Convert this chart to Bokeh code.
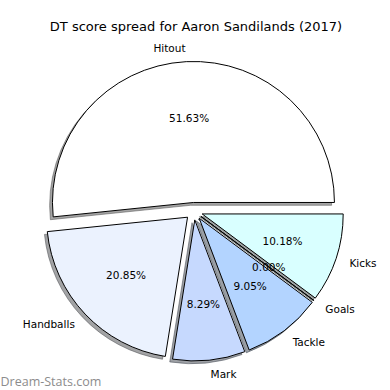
import math
from bokeh.plotting import figure
from bokeh.models import ColumnDataSource
from bokeh.core.properties import value
from bokeh.embed import file_html
from bokeh.resources import INLINE

# ---- data ----
labels = ["Kicks", "Goals", "Tackle", "Mark", "Handballs", "Hitout"]
percents = [10.18, 0.00, 9.05, 8.29, 20.85, 51.63]
colors = ["#d9ffff", "#99ccff", "#b3d4ff", "#c6d9fe", "#ebf2fe", "#ffffff"]
title_text = "DT score spread for Aaron Sandilands (2017)"
watermark = "Dream-Stats.com"

# ---- layout constants ----
W = H = 390
PX = 141.0                      # pixels per unit radius
cx_px, cy_px = 193.4, 210.7     # pie centre in figure pixels
x0, x1 = -cx_px / PX, (W - cx_px) / PX
y1, y0 = cy_px / PX, -(H - cy_px) / PX
EXPLODE = 0.062
SHADOW = 0.02
FONT = "DejaVu Sans"

p = figure(width=W, height=H, x_range=(x0, x1), y_range=(y0, y1),
           output_backend="svg", toolbar_location=None, min_border=0,
           x_axis_location=None, y_axis_location=None)
p.grid.visible = False
p.outline_line_color = None
p.background_fill_color = "white"
p.border_fill_color = "white"

total = sum(percents)
cum = 0.0
rows = dict(x=[], y=[], sa=[], ea=[], color=[], shadow=[], lx=[], ly=[], lab=[], align=[], px=[], py=[], pct=[])
for lab, v, col in zip(labels, percents, colors):
    t1 = -2 * math.pi * cum / total
    t2 = -2 * math.pi * (cum + v) / total
    cum += v
    mid = (t1 + t2) / 2
    cx, cy = EXPLODE * math.cos(mid), EXPLODE * math.sin(mid)
    sa, ea = t2, t1
    if ea - sa < 1e-4:
        ea = sa + 1e-4
    rows["x"].append(cx); rows["y"].append(cy)
    rows["sa"].append(sa); rows["ea"].append(ea)
    rows["color"].append(col)
    r, g, b = (int(col[i:i + 2], 16) for i in (1, 3, 5))
    rows["shadow"].append("#%02x%02x%02x" % (int(r * 0.3), int(g * 0.3), int(b * 0.3)))
    xt, yt = cx + 1.1 * math.cos(mid), cy + 1.1 * math.sin(mid)
    rows["lx"].append(xt); rows["ly"].append(yt); rows["lab"].append(lab)
    rows["align"].append("left" if xt > 0 else "right")
    rows["px"].append(cx + 0.6 * math.cos(mid)); rows["py"].append(cy + 0.6 * math.sin(mid))
    rows["pct"].append("%.2f%%" % (100 * v / total))

src = ColumnDataSource(rows)
shadow_src = ColumnDataSource(dict(x=[a - SHADOW for a in rows["x"]], y=[a - SHADOW for a in rows["y"]],
                                   sa=rows["sa"], ea=rows["ea"], shadow=rows["shadow"]))

p.wedge(x="x", y="y", radius=1.0, start_angle="sa", end_angle="ea", direction="anticlock",
        fill_color="shadow", fill_alpha=0.5, line_color="shadow", line_alpha=0.5, line_width=1,
        source=shadow_src)
p.wedge(x="x", y="y", radius=1.0, start_angle="sa", end_angle="ea", direction="anticlock",
        fill_color="color", line_color="black", line_width=1, source=src)

p.text(x="lx", y="ly", text="lab", text_align="align", text_baseline="middle",
       text_font=value(FONT), text_font_size="10.5px", text_color="black", source=src)
p.text(x="px", y="py", text="pct", text_align="center", text_baseline="middle",
       text_font=value(FONT), text_font_size="10.5px", text_color="black", source=src)

# title
p.text(x=[(195.5 - cx_px) / PX], y=[(cy_px - 26) / PX], text=[title_text],
       text_align="center", text_baseline="middle", text_font=value(FONT),
       text_font_size="13px", text_color="black")
# watermark
p.text(x=[x0], y=[(cy_px - 380.5) / PX], text=[watermark], text_align="left",
       text_baseline="middle", text_font=value("Open Sans"), text_font_size="12.5px",
       text_color="#8c8c8c", text_font_style="normal")

open("out.html", "w").write(file_html(p, INLINE))
